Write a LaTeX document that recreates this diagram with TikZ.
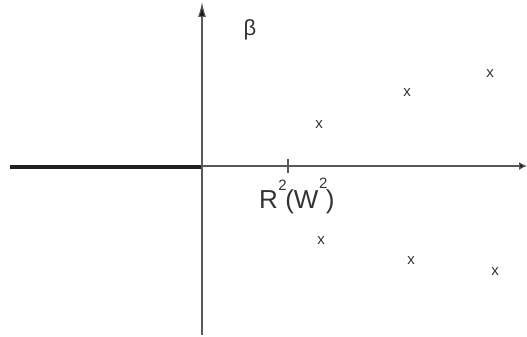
\documentclass[tikz,border=0pt]{standalone}
\usepackage{fontspec}
\setmainfont{Liberation Sans}
\usetikzlibrary{arrows.meta,positioning}

\newcommand{\supr}[2]{\raisebox{#1}{\fontsize{15}{15}\selectfont #2}}

\begin{document}
\begin{tikzpicture}[
    x=1pt, y=-1pt,
    axis/.style={draw=black!65, line width=1.1pt},
    cut/.style={draw=black!88, line width=4.5pt},
    pole/.style={font=\fontsize{15}{15}\selectfont, text=black!80, inner sep=0pt},
    lbl/.style={font=\fontsize{26}{26}\selectfont, text=black!80, inner sep=0pt}
]
\useasboundingbox (0,0) rectangle (527,337);

\coordinate (origin) at (202,166);
\coordinate (xend) at (527,166);
\coordinate (xstart) at (10,167);
\coordinate (ytop) at (202,2);
\coordinate (ybot) at (202,335);
\coordinate (tick) at (288,166);

\draw[cut] (xstart) -- (origin |- xstart);
\draw[axis, -{Latex[length=8pt, width=8pt, fill=black!90]}] (origin) -- (xend);
\draw[axis, -{Latex[length=15pt, width=8pt, fill=black!90]}] (ybot) -- (ytop);
\draw[axis] ([yshift=-7]tick) -- ([yshift=7]tick);

\node[lbl, font=\fontsize{22}{22}\selectfont] (beta) at (250,30) {β};
\node[lbl, anchor=base west] (res) at (259,208)
  {R\kern0.5pt\supr{18pt}{2}\kern-1.5pt(W\kern0.5pt\supr{20pt}{2}\kern-1.5pt)};

% poles
\node[pole] (p1) at (319,125) {x};
\node[pole] (p2) at (407,93) {x};
\node[pole] (p3) at (490,74) {x};
\node[pole] (q1) at (321,241) {x};
\node[pole] (q2) at (411,261) {x};
\node[pole] (q3) at (495,272) {x};

\end{tikzpicture}
\end{document}
